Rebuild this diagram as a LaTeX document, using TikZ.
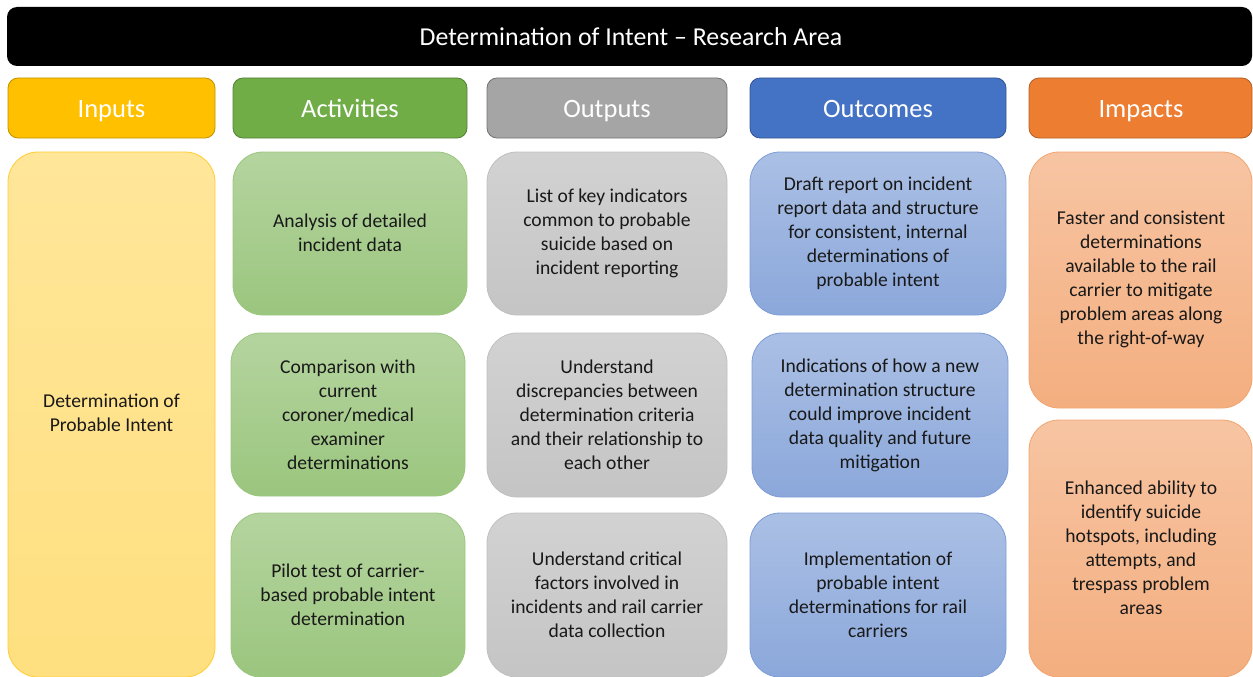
\documentclass[tikz,border=0pt]{standalone}
\usepackage{fontspec}
\setmainfont{Carlito}
\begin{document}
\begin{tikzpicture}[x=1pt,y=-1pt,
  hdr/.style={rounded corners=10pt, line width=0.8pt},
  hdrtext/.style={text=white, anchor=base, font=\fontsize{26.5}{30}\selectfont},
  body/.style={rounded corners=30pt, line width=0.8pt, text=black!90, align=center, font=\fontsize{19.6}{24}\selectfont},
]
\definecolor{cin}{HTML}{FFC000}
\definecolor{cact}{HTML}{70AD47}
\definecolor{cout}{HTML}{A5A5A5}
\definecolor{coc}{HTML}{4472C4}
\definecolor{cimp}{HTML}{ED7D31}
\useasboundingbox (0,0) rectangle (1253,677);
\clip (0,0) rectangle (1253,677);
% title
\fill[black, rounded corners=10pt] (7,7) rectangle (1252,66);
\node[text=white, anchor=base, font=\fontsize{25.8}{30}\selectfont] (title) at (631,46) {Determination of Intent -- Research Area};
% headers
\draw[hdr, fill=cin, draw=cin!75!black] (8,78) rectangle (215,138);
\node[hdrtext] (hin) at (111.5,117.5) {Inputs};
\draw[hdr, fill=cact, draw=cact!75!black] (233,78) rectangle (467,138);
\node[hdrtext] (hact) at (350,117.5) {Activities};
\draw[hdr, fill=cout, draw=cout!70!black] (487,78) rectangle (727,138);
\node[hdrtext] (hout) at (607,117.5) {Outputs};
\draw[hdr, fill=coc, draw=coc!75!black] (750,78) rectangle (1006,138);
\node[hdrtext] (hoc) at (878,117.5) {Outcomes};
\draw[hdr, fill=cimp, draw=cimp!75!black] (1029,78) rectangle (1252,138);
\node[hdrtext] (himp) at (1141,117.5) {Impacts};
% inputs
\draw[body, top color=cin!40, bottom color=cin!50, draw=cin!80] (8,152) rectangle (215,677);
\node[body] (in1) at (111.5,413) {Determination of\\Probable Intent};
% activities
\draw[body, top color=cact!52, bottom color=cact!70, draw=cact!70] (233,152) rectangle (467,315);
\node[body] (a1) at (350,233) {Analysis of detailed\\incident data};
\draw[body, top color=cact!52, bottom color=cact!70, draw=cact!70] (231,333) rectangle (465,496);
\node[body] (a2) at (348,415) {Comparison with\\current\\coroner/medical\\examiner\\determinations};
\draw[body, top color=cact!52, bottom color=cact!70, draw=cact!70] (231,513) rectangle (465,677);
\node[body] (a3) at (348,595) {Pilot test of carrier-\\based probable intent\\determination};
% outputs
\draw[body, top color=cout!50, bottom color=cout!65, draw=cout!70] (487,152) rectangle (727,315);
\node[body] (o1) at (607,233) {List of key indicators\\common to probable\\suicide based on\\incident reporting};
\draw[body, top color=cout!50, bottom color=cout!65, draw=cout!70] (487,333) rectangle (727,497);
\node[body] (o2) at (607,415) {Understand\\discrepancies between\\determination criteria\\and their relationship to\\each other};
\draw[body, top color=cout!50, bottom color=cout!65, draw=cout!70] (487,513) rectangle (727,677);
\node[body] (o3) at (607,595) {Understand critical\\factors involved in\\incidents and rail carrier\\data collection};
% outcomes
\draw[body, top color=coc!45, bottom color=coc!62, draw=coc!70] (750,152) rectangle (1006,315);
\node[body] (c1) at (878,233) {Draft report on incident\\report data and structure\\for consistent, internal\\determinations of\\probable intent};
\draw[body, top color=coc!45, bottom color=coc!62, draw=coc!70] (752,333) rectangle (1008,497);
\node[body] (c2) at (880,415) {Indications of how a new\\determination structure\\could improve incident\\data quality and future\\mitigation};
\draw[body, top color=coc!45, bottom color=coc!62, draw=coc!70] (750,513) rectangle (1006,677);
\node[body] (c3) at (878,595) {Implementation of\\probable intent\\determinations for rail\\carriers};
% impacts
\draw[body, top color=cimp!45, bottom color=cimp!62, draw=cimp!70] (1029,152) rectangle (1252,408);
\node[body] (i1) at (1141,279) {Faster and consistent\\determinations\\available to the rail\\carrier to mitigate\\problem areas along\\the right-of-way};
\draw[body, top color=cimp!45, bottom color=cimp!62, draw=cimp!70] (1029,420) rectangle (1252,677);
\node[body] (i2) at (1141,548) {Enhanced ability to\\identify suicide\\hotspots, including\\attempts, and\\trespass problem\\areas};
\end{tikzpicture}
\end{document}
